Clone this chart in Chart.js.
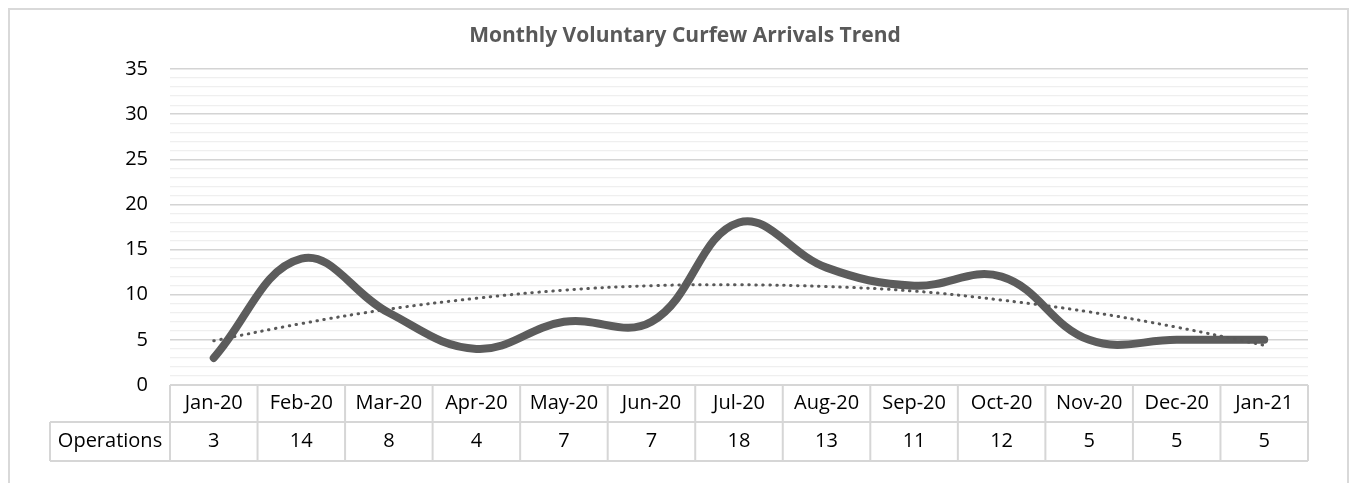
<!DOCTYPE html>
<html>
<head>
<meta charset="utf-8">
<script src="https://cdn.jsdelivr.net/npm/chart.js@4/dist/chart.umd.min.js"></script>
<style>
  body { margin: 0; background: #fff; }
</style>
</head>
<body>
<canvas id="myChart" width="1353" height="483"></canvas>
<script>
// Months along the x-axis
var months = ["Jan-20","Feb-20","Mar-20","Apr-20","May-20","Jun-20","Jul-20","Aug-20","Sep-20","Oct-20","Nov-20","Dec-20","Jan-21"];

// Monthly arrivals
var operations = [3, 14, 8, 4, 7, 7, 18, 13, 11, 12, 5, 5, 5];

// Dotted trend line
var trend = [4.9, 6.8, 8.4, 9.6, 10.5, 11.0, 11.1, 10.9, 10.4, 9.4, 8.1, 6.4, 4.4];

var yTicks = [0, 5, 10, 15, 20, 25, 30, 35];

var chartTitle = "Monthly Voluntary Curfew Arrivals Trend";
var rowLabel = "Operations";

var FONT = "'Open Sans', 'Noto Sans', sans-serif";

// frame, title and the data table under the plot
var tablePlugin = {
  id: 'dataTable',
  beforeDraw: function(chart) {
    var ctx = chart.ctx;
    ctx.save();
    ctx.strokeStyle = '#d9d9d9';
    ctx.lineWidth = 2;
    ctx.strokeRect(9, 9, 1339, 600);
    ctx.restore();
  },
  afterDraw: function(chart) {
    var ctx = chart.ctx;
    var x = chart.scales.x;
    var area = chart.chartArea;
    var top = area.bottom;
    var mid = top + 37;
    var bottom = mid + 39;
    var step = (area.right - area.left) / months.length;

    ctx.save();
    ctx.fillStyle = '#595959';
    ctx.font = "bold 21px " + FONT;
    ctx.textAlign = 'center';
    ctx.textBaseline = 'middle';
    ctx.fillText(chartTitle, 685, 36);

    ctx.strokeStyle = '#d6d6d6';
    ctx.lineWidth = 2;
    ctx.beginPath();
    ctx.moveTo(area.left, top); ctx.lineTo(area.right, top);
    ctx.moveTo(50, mid); ctx.lineTo(area.right, mid);
    ctx.moveTo(50, bottom); ctx.lineTo(area.right, bottom);
    ctx.moveTo(50, mid); ctx.lineTo(50, bottom);
    for (var i = 0; i <= months.length; i++) {
      var bx = area.left + i * step;
      ctx.moveTo(bx, top); ctx.lineTo(bx, bottom);
    }
    ctx.stroke();

    ctx.fillStyle = '#000';
    ctx.font = "20px " + FONT;
    ctx.fillText(rowLabel, (50 + area.left) / 2, (mid + bottom) / 2);
    months.forEach(function(m, i) {
      var px = x.getPixelForValue(i);
      ctx.fillText(m, px, (top + mid) / 2);
      ctx.fillText(String(operations[i]), px, (mid + bottom) / 2);
    });
    ctx.restore();
  }
};

var ctx = document.getElementById("myChart");
var myChart = new Chart(ctx, {
  type: 'line',
  data: {
    labels: months,
    datasets: [
      {
        label: "Trend",
        data: trend,
        borderColor: "#595959",
        borderWidth: 3,
        borderDash: [0.5, 6.5],
        borderCapStyle: 'round',
        tension: 0.4,
        pointRadius: 0,
        fill: false,
        order: 0
      },
      {
        label: rowLabel,
        data: operations,
        borderColor: "#5c5c5c",
        borderWidth: 8,
        borderCapStyle: 'round',
        borderJoinStyle: 'round',
        tension: 0.4,
        pointRadius: 0,
        fill: false,
        order: 1
      }
    ]
  },
  options: {
    responsive: false,
    animation: false,
    devicePixelRatio: 1,
    layout: { padding: { top: 69, left: 0, right: 45, bottom: 98 } },
    plugins: {
      legend: { display: false },
      title: { display: false },
      tooltip: { enabled: false }
    },
    scales: {
      x: {
        display: false,
        offset: true
      },
      y: {
        min: 0,
        max: 35,
        border: { display: false },
        afterFit: function(scale) { scale.width = 170; },
        grid: {
          drawTicks: false,
          color: function(c) { return c.tick.value % 5 === 0 ? '#d4d4d4' : '#efefef'; },
          lineWidth: function(c) { return c.tick.value % 5 === 0 ? 1.5 : 1.2; }
        },
        ticks: {
          stepSize: 1,
          autoSkip: false,
          padding: 22,
          color: '#000',
          font: { family: FONT, size: 20 },
          callback: function(v) { return yTicks.indexOf(v) >= 0 ? v : ''; }
        }
      }
    }
  },
  plugins: [tablePlugin]
});
</script>
</body>
</html>
